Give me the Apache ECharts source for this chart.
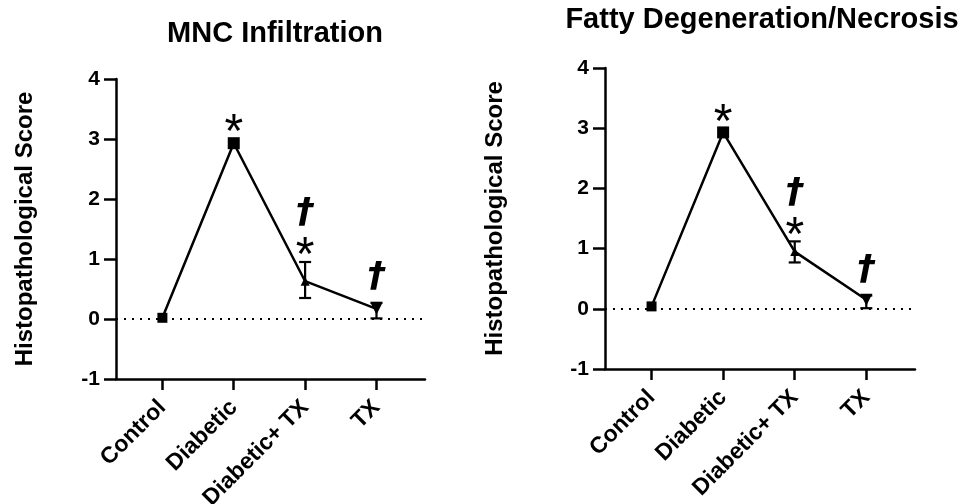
<!DOCTYPE html>
<html>
<head>
<meta charset="utf-8">
<script src="https://cdn.jsdelivr.net/npm/echarts@6/dist/echarts.min.js"></script>
<style>html,body{margin:0;padding:0;background:#fff}#c{width:963px;height:504px}</style>
</head>
<body>
<div id="c"></div>
<script>
var categories = ['Control', 'Diabetic', 'Diabetic+ TX', 'TX'];
var yTicks = [-1, 0, 1, 2, 3, 4];
var titles = ['MNC Infiltration', 'Fatty Degeneration/Necrosis'];
var yName = 'Histopathological Score';

var mncValues = [0.02, 2.93, 0.63, 0.17];
var mncLow    = [0.02, 2.93, 0.35, 0.01];
var mncHigh   = [0.02, 2.93, 0.95, 0.27];
var mncMarks  = ['', '*', '†*', '†'];

var fattyValues = [0.04, 2.93, 0.95, 0.15];
var fattyLow    = [0.04, 2.93, 0.77, 0.01];
var fattyHigh   = [0.04, 2.93, 1.12, 0.22];
var fattyMarks  = ['', '*', '†*', '†'];

var symbols = ['rect', 'rect', 'triangle', 'triangle'];
var symbolSizes = [10, 12, 9, 12];
var symbolRotates = [0, 0, 0, 180];

var FONT = 'Liberation Sans, Arial, sans-serif';
var DAGFONT = 'DejaVu Sans, Liberation Sans, sans-serif';
var chart = echarts.init(document.getElementById('c'), null, {renderer: 'canvas'});

function lineData(vals) {
  return vals.map(function (v, i) {
    return {value: [i, v], symbol: symbols[i], symbolSize: symbolSizes[i], symbolRotate: symbolRotates[i]};
  });
}
function errData(vals, lo, hi) {
  return vals.map(function (v, i) { return [i, lo[i], hi[i], v]; });
}
function makeRender(marks) {
  return function (params, api) {
    var i = params.dataIndex;
    var x = api.value(0);
    var pLo = api.coord([x, api.value(1)]);
    var pHi = api.coord([x, api.value(2)]);
    var children = [];
    var st = {stroke: '#000', lineWidth: 2.2};
    var hasErr = pLo[1] - pHi[1] > 2;
    if (hasErr) {
      children.push({type: 'line', shape: {x1: pLo[0], y1: pLo[1], x2: pHi[0], y2: pHi[1]}, style: st});
      children.push({type: 'line', shape: {x1: pLo[0] - 6, y1: pLo[1], x2: pLo[0] + 6, y2: pLo[1]}, style: st});
      children.push({type: 'line', shape: {x1: pHi[0] - 6, y1: pHi[1], x2: pHi[0] + 6, y2: pHi[1]}, style: st});
    }
    var m = marks[i];
    var hasStar = m.indexOf('*') >= 0;
    var starC = hasErr ? pHi[1] - 17 : pHi[1] - 21;
    if (hasStar) {
      children.push({type: 'text', x: pHi[0], y: starC + 36, style: {text: '*', fontFamily: FONT, fontSize: 48, fontWeight: 'normal', fill: '#000', align: 'center', verticalAlign: 'bottom'}});
    }
    if (m.indexOf('†') >= 0) {
      var dagC = hasStar ? starC - 33 : pHi[1] - 27;
      children.push({type: 'text', x: pHi[0], y: dagC + 20, style: {text: '†', fontFamily: DAGFONT, fontSize: 36, fontWeight: 'bold', fontStyle: 'italic', fill: '#000', align: 'center', verticalAlign: 'bottom'}});
    }
    return {type: 'group', children: children};
  };
}

function xAxis(idx) {
  return {
    type: 'value', gridIndex: idx, min: -0.65, max: 3.68,
    splitLine: {show: false},
    axisLine: {show: true, onZero: false, lineStyle: {color: '#000', width: 2.5}},
    axisTick: {show: true, customValues: [0, 1, 2, 3], length: 11, inside: false, lineStyle: {color: '#000', width: 2.5}},
    axisLabel: {customValues: [0, 1, 2, 3], formatter: function (v) { return categories[Math.round(v)]; },
      rotate: 45, margin: 25, color: '#000', fontFamily: FONT, fontWeight: 'bold', fontSize: 23}
  };
}
function yAxis(idx, gap) {
  return {
    type: 'value', gridIndex: idx, min: yTicks[0], max: yTicks[yTicks.length - 1], interval: 1,
    name: yName, nameLocation: 'middle', nameGap: gap,
    nameTextStyle: {color: '#000', fontFamily: FONT, fontWeight: 'bold', fontSize: 24},
    splitLine: {show: false},
    axisLine: {show: true, onZero: false, lineStyle: {color: '#000', width: 2.5}},
    axisTick: {show: true, length: 12, lineStyle: {color: '#000', width: 2.5}},
    axisLabel: {margin: 16, color: '#000', fontFamily: FONT, fontWeight: 'bold', fontSize: 21}
  };
}
function lineSeries(idx, vals) {
  return {
    type: 'line', xAxisIndex: idx, yAxisIndex: idx, data: lineData(vals),
    lineStyle: {color: '#000', width: 2.5}, itemStyle: {color: '#000'}, z: 3,
    animation: false,
    markLine: {silent: true, symbol: 'none', label: {show: false}, animation: false,
      lineStyle: {color: '#000', type: [2, 6], width: 2.2}, data: [{yAxis: 0}]}
  };
}
function errSeries(idx, vals, lo, hi, marks) {
  return {type: 'custom', xAxisIndex: idx, yAxisIndex: idx, data: errData(vals, lo, hi),
    renderItem: makeRender(marks), encode: {x: 0, y: [1, 2]}, z: 4, animation: false, clip: false};
}

chart.setOption({
  backgroundColor: '#fff',
  animation: false,
  title: [
    {text: titles[0], left: 270, top: 14, textAlign: 'center', textStyle: {color: '#000', fontFamily: FONT, fontWeight: 'bold', fontSize: 29}},
    {text: titles[1], left: 757, top: 0, textAlign: 'center', textStyle: {color: '#000', fontFamily: FONT, fontWeight: 'bold', fontSize: 29}}
  ],
  grid: [
    {left: 116, top: 79, width: 309, height: 300, containLabel: false, outerBoundsMode: 'none'},
    {left: 605, top: 68, width: 310, height: 301, containLabel: false, outerBoundsMode: 'none'}
  ],
  xAxis: [xAxis(0), xAxis(1)],
  yAxis: [yAxis(0, 79), yAxis(1, 98)],
  series: [
    lineSeries(0, mncValues), errSeries(0, mncValues, mncLow, mncHigh, mncMarks),
    lineSeries(1, fattyValues), errSeries(1, fattyValues, fattyLow, fattyHigh, fattyMarks)
  ]
});
</script>
</body>
</html>
